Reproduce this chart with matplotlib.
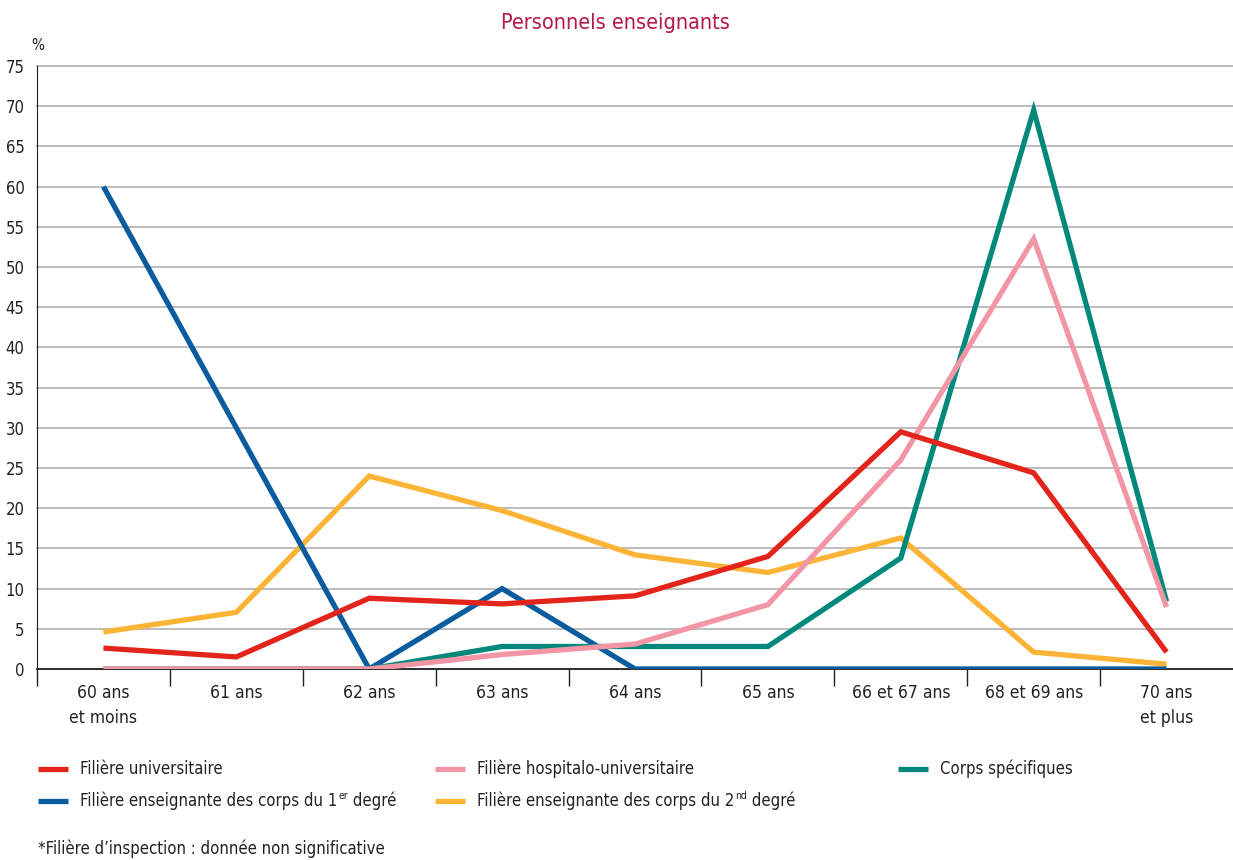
import numpy as np
import matplotlib
matplotlib.use("Agg")
import matplotlib.pyplot as plt
from matplotlib.lines import Line2D
from matplotlib import font_manager as fm

# the reference uses a condensed sans: pick the narrowest regular face installed
stretch_num = {'ultra-condensed': 100, 'extra-condensed': 200, 'condensed': 300,
               'semi-condensed': 400, 'normal': 500}
cands = []
for f in fm.fontManager.ttflist:
    st = f.stretch if isinstance(f.stretch, (int, float)) else stretch_num.get(f.stretch, 500)
    if ('Narrow' in f.name or 'Condensed' in f.name) and st >= 500:
        st = 300
    if st < 500 and f.weight in (400, 'normal', 'regular') and f.style == 'normal':
        cands.append((abs(st - 300), f))
cands.sort(key=lambda c: c[0])
if cands:
    font_name = cands[0][1].name
    font_stretch = cands[0][1].stretch
else:
    font_name, font_stretch = 'Roboto', 'normal'
plt.rcParams['font.family'] = [font_name, 'DejaVu Sans']
plt.rcParams['font.stretch'] = font_stretch

categories = ["60 ans\net moins", "61 ans", "62 ans", "63 ans", "64 ans",
              "65 ans", "66 et 67 ans", "68 et 69 ans", "70 ans\net plus"]

universitaire = [2.6, 1.5, 8.8, 8.1, 9.1, 14.0, 29.5, 24.4, 2.1]
hospitalo = [0, 0, 0, 1.8, 3.1, 8.0, 26.0, 53.5, 7.7]
corps_spec = [0, 0, 0, 2.8, 2.8, 2.8, 13.8, 69.5, 8.4]
degre1 = [60.0, 30.0, 0, 10.0, 0, 0, 0, 0, 0]
degre2 = [4.6, 7.05, 24.0, 19.7, 14.2, 12.0, 16.3, 2.1, 0.6]

# label pieces: (text before superscript, superscript, text after)
labels = [("Filière universitaire", "", ""),
          ("Filière hospitalo-universitaire", "", ""),
          ("Corps spécifiques", "", ""),
          ("Filière enseignante des corps du 1", "er", " degré"),
          ("Filière enseignante des corps du 2", "nd", " degré")]
colors = ["#E3241B", "#F296A5", "#00897A", "#0A5C9E", "#FBB436"]
series = [universitaire, hospitalo, corps_spec, degre1, degre2]

W, H = 1233, 860
fig = plt.figure(figsize=(W / 100, H / 100), dpi=100)
ax = fig.add_axes([37 / W, 1 - 669 / H, 1 - 37 / W, (669 - 66) / H])

x = np.arange(len(categories))
# drawing order: yellow, blue, teal, pink, red on top
for i in [4, 3, 2, 1, 0]:
    ax.plot(x, series[i], color=colors[i], lw=3.8, solid_joinstyle='miter',
            solid_capstyle='butt', zorder=3 + (4 - i))

ax.set_xlim(-0.5, 8.5)
ax.set_ylim(0, 75)
ax.set_yticks(np.arange(0, 80, 5))
ax.tick_params(axis='y', length=0, labelsize=12, pad=9, colors='#222222')
ax.set_xticks(x)
ax.set_xticklabels(categories, fontsize=12.5, color='#222222', linespacing=1.45)
ax.tick_params(axis='x', which='major', length=0, pad=11)
ax.set_xticks(np.arange(-0.5, 8.0, 1.0), minor=True)
ax.tick_params(axis='x', which='minor', length=12, width=1.0, color='#222222', direction='out')
ax.grid(axis='y', color='#b8b8b8', lw=1.3, zorder=1)
for gl in ax.get_ygridlines():
    gl.set_clip_on(False)
for s in ['top', 'right']:
    ax.spines[s].set_visible(False)
ax.spines['left'].set_color('#222222')
ax.spines['left'].set_zorder(2)
ax.spines['bottom'].set_color('#222222')
ax.spines['bottom'].set_linewidth(1.3)
ax.spines['left'].set_bounds(0, 75)

fig.text(615 / W, 1 - 23 / H, "Personnels enseignants", ha='center', va='center',
         fontsize=15.5, color='#B31942')
fig.text(38 / W, 1 - 46 / H, "%", ha='center', va='center', fontsize=11, color='#222222')

# manual legend
renderer = fig.canvas.get_renderer()
leg_pos = [(38, 769), (435, 769), (898, 769), (38, 801), (435, 801)]
for (px, py), (t1, sup, t2), col in zip(leg_pos, labels, colors):
    fig.add_artist(Line2D([px / W, (px + 30) / W], [1 - py / H, 1 - py / H],
                          color=col, lw=3.8, solid_capstyle='butt'))
    t = fig.text((px + 42) / W, 1 - py / H, t1, ha='left', va='center',
                 fontsize=12, color='#222222')
    if sup:
        bb = t.get_window_extent(renderer)
        s = fig.text(bb.x1 / W + 1 / W, (bb.y1 + 1) / H, sup, ha='left', va='top',
                     fontsize=7.5, color='#222222')
        bb2 = s.get_window_extent(renderer)
        fig.text(bb2.x1 / W, 1 - py / H, t2, ha='left', va='center',
                 fontsize=12, color='#222222')

fig.text(38 / W, 1 - 849 / H, "*Filière d’inspection : donnée non significative",
         ha='left', va='center', fontsize=12, color='#222222')

fig.savefig("out.png", dpi=100)
